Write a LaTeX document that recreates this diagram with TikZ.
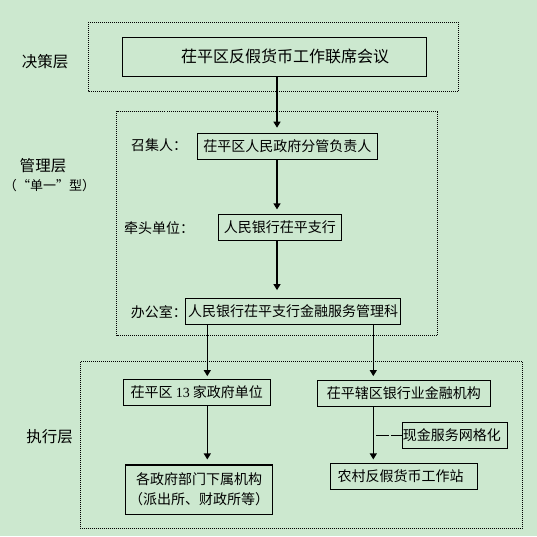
\documentclass[tikz,border=0pt]{standalone}
\usepackage{fontspec}
\setmainfont{Noto Sans CJK SC}
\newfontfamily\numfont{Liberation Serif}
\definecolor{EyeGreen}{HTML}{CCE8CF}
\usetikzlibrary{arrows.meta,positioning}

\begin{document}
\begin{tikzpicture}[x=1pt,y=-1pt,>={Triangle[length=6pt,width=7pt]}]
\tikzstyle{blk}=[draw,line width=1.2pt,inner sep=0pt,align=center,minimum height=26pt,font=\fontsize{14}{20}\selectfont]
\tikzstyle{tag}=[inner sep=0pt,font=\fontsize{14}{17}\selectfont]
\tikzstyle{layer}=[inner sep=0pt,font=\fontsize{15.5}{18}\selectfont]
\tikzstyle{zone}=[line width=1pt,dash pattern=on 1pt off 1pt]
\tikzstyle{link}=[->,line width=1.2pt]
\fill[EyeGreen] (0,0) rectangle (537,536);
\useasboundingbox (0,0) rectangle (537,536);
% layer frames
\draw[zone] (88.3,22.3) rectangle (458.7,91.3);
\draw[zone] (116.5,111) rectangle (437.7,335.3);
\draw[zone] (80.3,361.5) rectangle (522.3,528.3);
% layer names
\node[layer] (d1) at (45,61.7) {决策层};
\node[layer] (d2) at (43,165.7) {管理层};
\node[tag,font=\fontsize{13}{16}\selectfont] (d2b) at (49.5,185.7) {（“单一”型）};
\node[layer] (d3) at (49.7,437) {执行层};
% decision + management
\node[blk,minimum width=304.4pt,minimum height=39pt,font=\fontsize{16}{20}\selectfont] (meet) at (274.5,56.8) {\hspace*{21pt}茌平区反假货币工作联席会议};
\node[blk,minimum width=180pt] (conv) at (287.3,146.3) {茌平区人民政府分管负责人};
\node[blk,minimum width=123pt] (lead) at (279.8,227.3) {人民银行茌平支行};
\node[blk,minimum width=215.4pt,minimum height=25.6pt] (office) at (293,311.5) {人民银行茌平支行金融服务管理科};
\node[tag,anchor=west] (t1) at (131,145) {召集人：};
\node[tag,anchor=west] (t2) at (124,228.3) {牵头单位：};
\node[tag,anchor=west] (t3) at (130.7,311.7) {办公室：};
% execution
\node[blk,minimum width=147pt,minimum height=25.6pt] (gov) at (196.8,392.5) {茌平区 {\numfont 13} 家政府单位};
\node[blk,minimum width=173pt] (bank) at (403.8,393.3) {茌平辖区银行业金融机构};
\node[blk,minimum width=147.4pt,minimum height=49.3pt] (sub) at (199,489.7) {各政府部门下属机构\\（派出所、财政所等）};
\node[blk,minimum width=147.4pt] (station) at (404,476.3) {农村反假货币工作站\hspace*{7pt}};
\node[blk,minimum width=104pt] (grid) at (455.3,435.3) {现金服务网格化\hspace*{7pt}};
\coordinate (spine) at (277,0);
\coordinate (lcol) at (207.3,0);
\coordinate (rcol) at (373.3,0);
\coordinate (dashstart) at (376.3,435.3);
\draw[link,shorten >=5pt] (meet.south -| spine) -- (conv.north -| spine);
\draw[link,shorten >=4.3pt] (conv.south -| spine) -- (lead.north -| spine);
\draw[link,shorten >=8pt] (lead.south -| spine) -- (office.north -| spine);
\draw[link,shorten >=3pt] (office.south -| lcol) -- (gov.north -| lcol);
\draw[link,shorten >=3.6pt] (office.south -| rcol) -- (bank.north -| rcol);
\draw[link,shorten >=5pt] (gov.south -| lcol) -- (sub.north -| lcol);
\draw[link,shorten >=3.3pt] (bank.south -| rcol) -- (station.north -| rcol);
\draw[line width=1.2pt,dash pattern=on 13pt off 1.5pt] (dashstart) -- (grid.west);
\end{tikzpicture}
\end{document}
